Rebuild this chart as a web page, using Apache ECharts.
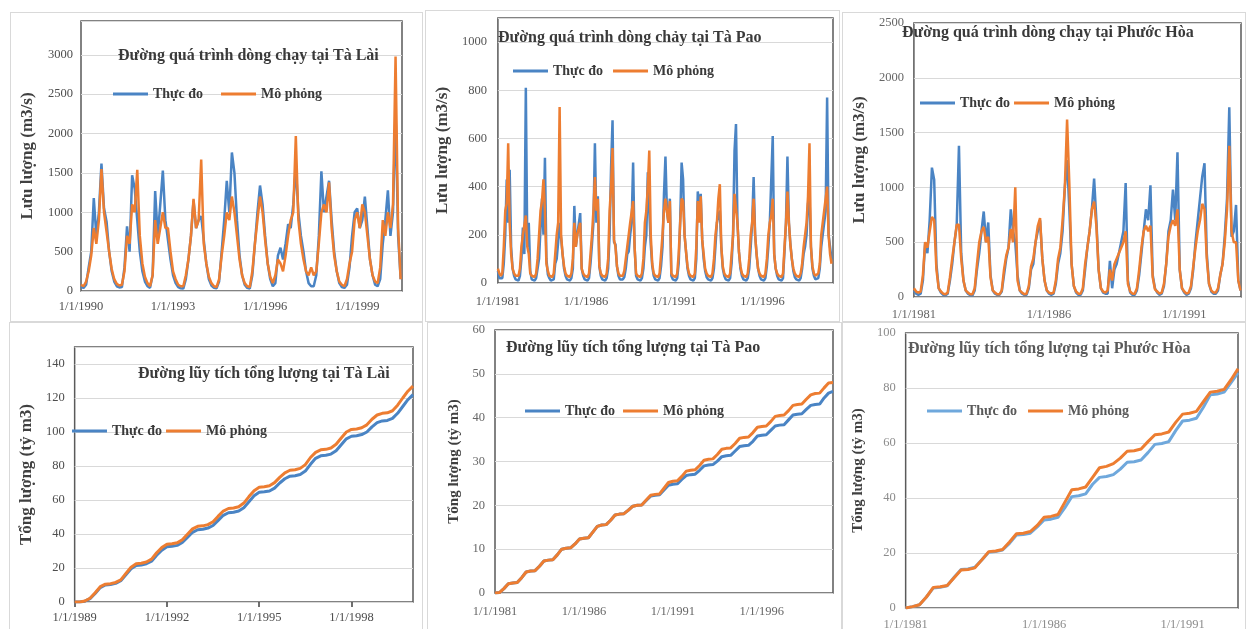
<!DOCTYPE html>
<html>
<head>
<meta charset="utf-8">
<script src="https://cdn.jsdelivr.net/npm/echarts@6/dist/echarts.min.js"></script>
<style>
  html, body { margin: 0; padding: 0; background: #fff; overflow: hidden; width: 1246px; height: 629px; }
  .panel { position: absolute; border: 1px solid #d9d9d9; box-sizing: border-box; background: #fff; }
</style>
</head>
<body>
<div id="p1" class="panel" style="left:10px;top:12px;width:413px;height:310px"></div>
<div id="p2" class="panel" style="left:425px;top:10px;width:415px;height:312px"></div>
<div id="p3" class="panel" style="left:842px;top:12px;width:404px;height:310px"></div>
<div id="p4" class="panel" style="left:9px;top:322px;width:414px;height:318px"></div>
<div id="p5" class="panel" style="left:427px;top:322px;width:415px;height:318px"></div>
<div id="p6" class="panel" style="left:842px;top:322px;width:404px;height:318px"></div>
<script>
// ---- data ----
const seriesNames = ['Thực đo', 'Mô phỏng'];

// Tà Lài flow, monthly samples from Jan 1990 (m3/s)
const taLaiFlowObs = [
  50, 40, 80, 300, 500, 1180, 700, 1000, 1620, 1050, 880, 500,
  250, 120, 60, 45, 50, 300, 820, 500, 1470, 1300, 900, 500,
  250, 120, 60, 40, 200, 1270, 700, 1100, 1530, 900, 650, 400,
  200, 100, 50, 35, 30, 150, 400, 700, 1150, 800, 900, 950,
  650, 350, 150, 70, 40, 35, 120, 500, 900, 1400, 1000, 1760,
  1500, 900, 450, 200, 80, 40, 30, 200, 600, 1000, 1340, 1100,
  700, 350, 150, 60, 100, 450, 550, 400, 600, 850, 800, 1100,
  1580, 1000, 700, 500, 250, 100, 60, 60, 200, 700, 1520, 1000,
  1200, 1400, 900, 500, 250, 100, 50, 40, 80, 300, 700, 1000,
  1050, 800, 900, 1200, 800, 400, 200, 80, 60, 150, 600, 900,
  1280, 700, 1000, 2300, 700, 150
];
const taLaiFlowSim = [
  80, 60, 120, 250, 450, 800, 600, 900, 1550, 1000, 750, 500,
  280, 150, 90, 70, 80, 250, 700, 600, 1100, 1000, 1540, 700,
  350, 180, 100, 60, 200, 900, 600, 800, 1000, 800, 800, 500,
  250, 150, 80, 60, 60, 200, 400, 700, 1170, 800, 900, 1670,
  600, 350, 180, 100, 60, 50, 150, 450, 700, 1000, 900, 1200,
  1000, 700, 400, 200, 100, 60, 50, 250, 600, 900, 1200, 1000,
  650, 350, 180, 100, 200, 400, 350, 250, 450, 700, 900, 1000,
  1970, 900, 600, 400, 250, 200, 300, 200, 250, 600, 1000, 1100,
  1000, 1380, 800, 450, 250, 120, 80, 60, 150, 350, 500, 900,
  1000, 800, 1100, 1000, 700, 400, 200, 120, 100, 300, 900, 700,
  1000, 800, 1100, 2980, 800, 150
];

// Tà Pao flow, monthly samples from Jan 1981 (m3/s)
const taPaoFlowObs = [
  50, 20, 15, 20, 80, 200, 430, 250, 470, 150, 60, 30,
  15, 10, 10, 30, 100, 230, 120, 810, 150, 250, 50, 15,
  10, 10, 20, 60, 100, 230, 350, 200, 520, 100, 35, 20,
  10, 10, 15, 80, 100, 170, 250, 250, 120, 60, 30, 15,
  10, 10, 20, 60, 320, 150, 200, 200, 290, 60, 30, 15,
  10, 10, 20, 80, 160, 250, 580, 250, 360, 70, 30, 15,
  10, 10, 20, 60, 200, 480, 675, 170, 160, 70, 30, 15,
  10, 15, 25, 60, 120, 130, 200, 250, 500, 150, 30, 15,
  10, 10, 20, 60, 150, 200, 460, 300, 160, 70, 30, 15,
  10, 10, 20, 70, 150, 370, 525, 300, 250, 350, 30, 15,
  10, 10, 20, 80, 250, 500, 430, 200, 130, 60, 30, 15,
  10, 10, 20, 100, 380, 300, 370, 180, 100, 50, 25, 15,
  10, 10, 20, 60, 150, 250, 280, 300, 150, 60, 30, 15,
  10, 10, 20, 80, 200, 550, 660, 250, 130, 60, 30, 15,
  10, 10, 20, 60, 150, 250, 440, 200, 120, 60, 30, 15,
  10, 10, 20, 70, 150, 250, 250, 610, 120, 60, 30, 15,
  10, 10, 20, 130, 250, 525, 250, 160, 100, 50, 25, 15,
  10, 10, 20, 60, 120, 150, 200, 330, 360, 150, 60, 30,
  15, 10, 20, 60, 150, 200, 250, 300, 770, 200, 150, 100
];
const taPaoFlowSim = [
  60, 40, 30, 40, 150, 300, 330, 580, 250, 120, 60, 40,
  30, 25, 30, 60, 150, 200, 200, 280, 150, 120, 40, 30,
  25, 25, 40, 100, 200, 300, 340, 430, 300, 80, 50, 30,
  25, 25, 40, 120, 200, 250, 730, 200, 120, 70, 40, 30,
  25, 25, 40, 100, 250, 150, 200, 200, 250, 60, 40, 30,
  25, 25, 40, 120, 200, 300, 440, 300, 350, 70, 40, 30,
  25, 25, 40, 100, 300, 400, 560, 180, 150, 70, 40, 30,
  25, 30, 50, 100, 150, 150, 250, 250, 340, 150, 40, 30,
  25, 25, 40, 100, 250, 300, 400, 550, 200, 80, 40, 30,
  25, 25, 40, 120, 200, 300, 350, 300, 250, 340, 40, 30,
  25, 25, 40, 120, 250, 350, 340, 200, 130, 70, 40, 30,
  25, 25, 40, 150, 340, 250, 360, 180, 120, 60, 40, 30,
  25, 25, 40, 100, 200, 250, 350, 410, 150, 70, 40, 30,
  25, 25, 40, 120, 200, 370, 370, 250, 130, 70, 40, 30,
  25, 25, 40, 100, 200, 250, 350, 200, 120, 60, 40, 30,
  25, 25, 40, 100, 200, 250, 280, 350, 120, 60, 40, 30,
  25, 25, 40, 150, 250, 380, 250, 160, 100, 60, 40, 30,
  25, 25, 40, 80, 150, 200, 250, 360, 580, 150, 70, 40,
  30, 25, 40, 80, 200, 250, 300, 350, 400, 200, 120, 80
];

// Phước Hòa flow, monthly samples from Jan 1981 (m3/s)
const phuocHoaFlowObs = [
  60, 30, 20, 30, 150, 500, 400, 700, 1180, 1070, 300, 80,
  40, 20, 15, 30, 150, 300, 500, 650, 1380, 400, 150, 60,
  30, 15, 15, 60, 250, 400, 600, 780, 500, 680, 200, 60,
  30, 20, 20, 50, 200, 350, 450, 800, 600, 500, 200, 60,
  30, 20, 20, 80, 250, 300, 500, 600, 700, 350, 150, 60,
  30, 20, 30, 120, 300, 400, 600, 1000, 1250, 800, 300, 100,
  40, 20, 20, 60, 250, 450, 600, 800, 1080, 700, 250, 80,
  40, 30, 30, 330, 80, 250, 300, 400, 500, 600, 1040, 150,
  40, 20, 20, 60, 200, 400, 600, 800, 700, 1020, 200, 80,
  40, 20, 30, 100, 300, 600, 700, 980, 700, 1320, 250, 80,
  40, 20, 30, 80, 250, 500, 700, 900, 1100, 1220, 400, 120,
  50, 30, 30, 60, 200, 300, 560, 900, 1730, 550, 600, 840,
  150, 60
];
const phuocHoaFlowSim = [
  80, 50, 40, 50, 200, 500, 450, 600, 730, 700, 250, 80,
  50, 30, 25, 40, 180, 350, 500, 660, 660, 350, 150, 60,
  40, 25, 25, 80, 300, 500, 600, 640, 500, 550, 180, 60,
  40, 25, 25, 60, 250, 380, 450, 620, 500, 1000, 150, 60,
  40, 25, 30, 100, 280, 350, 500, 650, 720, 350, 150, 60,
  40, 30, 40, 150, 350, 450, 700, 1000, 1620, 1030, 300, 100,
  50, 30, 30, 80, 300, 450, 600, 800, 870, 650, 250, 80,
  50, 40, 60, 250, 150, 300, 350, 400, 450, 500, 600, 120,
  50, 30, 30, 80, 250, 450, 600, 650, 600, 650, 180, 70,
  50, 30, 40, 120, 300, 550, 650, 700, 650, 800, 250, 80,
  50, 30, 40, 100, 280, 450, 600, 700, 850, 800, 350, 120,
  60, 40, 40, 80, 200, 300, 500, 800, 1380, 600, 500, 500,
  150, 60
];

// Tà Lài cumulative volume, every 2 months from Jan 1989 (billion m3)
const taLaiCumObs = [
  0, 0, 0.5, 2, 5, 8.5,
  10, 10.3, 11, 12.5, 16, 19.5,
  21.5, 21.8, 22.5, 24, 27.5, 30.5,
  32.5, 32.8, 33.3, 35, 38, 41,
  42.5, 42.8, 43.5, 45, 48, 51,
  52.5, 52.8, 53.5, 55.5, 59, 62.5,
  64.5, 64.8, 65.3, 67, 70, 72.5,
  74, 74.3, 75, 77, 81, 84.5,
  86, 86.3, 87, 89, 92.5, 96,
  97.5, 97.8, 98.5, 100, 103, 105.5,
  106.5, 106.8, 108, 111, 115, 119,
  122
];
const taLaiCumSim = [
  0, 0, 0.6, 2.2, 5.4, 9,
  10.5, 10.8, 11.5, 13, 16.8, 20.5,
  22.5, 22.8, 23.5, 25.2, 29, 32,
  34, 34.3, 34.8, 36.6, 39.8, 43,
  44.5, 44.8, 45.5, 47.2, 50.5, 53.5,
  55, 55.3, 56, 58.2, 62, 65.5,
  67.5, 67.8, 68.4, 70.2, 73.3, 76,
  77.5, 77.8, 78.6, 80.8, 85, 88,
  89.5, 89.8, 90.6, 92.8, 96.5, 100,
  101.5, 101.8, 102.5, 104.2, 107.5, 110,
  111, 111.3, 112.5, 115.8, 120, 124,
  127
];

// Tà Pao cumulative volume, quarterly from Jan 1981 (billion m3)
const taPaoCumObs = [
  0, 0.1, 1.0, 2.1,  2.3, 2.4, 3.5, 4.8,  5, 5.1, 6.1, 7.3,  7.5, 7.6, 8.7, 10.0,
  10.2, 10.3, 11.2, 12.3,  12.5, 12.6, 13.9, 15.2,  15.5, 15.6, 16.6, 17.8,  18, 18.1, 18.9, 19.8,
  20, 20.1, 21.1, 22.1,  22.3, 22.4, 23.5, 24.6,  24.8, 24.9, 25.9, 26.8,  27, 27.1, 28, 29,
  29.2, 29.3, 30.1, 31.1,  31.3, 31.4, 32.4, 33.4,  33.6, 33.7, 34.6, 35.8,  36, 36.1, 37.1, 38.1,
  38.3, 38.4, 39.5, 40.6,  40.8, 40.9, 41.9, 42.8,  43, 43.1, 44.5, 45.6,
  46
];
const taPaoCumSim = [
  0, 0.1, 1.0, 2.1,  2.3, 2.4, 3.5, 4.8,  5, 5.1, 6.1, 7.3,  7.5, 7.6, 8.7, 10.0,
  10.2, 10.3, 11.2, 12.3,  12.5, 12.6, 13.9, 15.2,  15.5, 15.6, 16.6, 17.8,  18, 18.1, 18.9, 19.8,
  20, 20.1, 21.2, 22.3,  22.5, 22.6, 23.9, 25.2,  25.5, 25.6, 26.6, 27.8,  28, 28.1, 29.1, 30.3,
  30.5, 30.6, 31.6, 32.8,  33, 33.1, 34.1, 35.3,  35.5, 35.6, 36.6, 37.8,  38, 38.1, 39.1, 40.3,
  40.5, 40.6, 41.6, 42.8,  43, 43.1, 44.2, 45.2,  45.5, 45.6, 46.8, 47.9,
  48
];

// Phước Hòa cumulative volume, quarterly from Jan 1981 (billion m3)
const phuocHoaCumObs = [
  0, 0.5, 1.2, 4,  7.3, 7.5, 8.1, 11.2,  14, 14.2, 14.8, 17.5,  20.3, 20.5, 21.1, 23.5,
  26.5, 26.7, 27.2, 29.5,  32, 32.3, 33, 36.5,  40.5, 40.8, 41.5, 45,  47.5, 47.8, 48.5, 50.5,
  53, 53.2, 53.8, 56.5,  59.5, 59.8, 60.5, 64.5,  68, 68.3, 69, 73,  77.5, 77.8, 78.5, 82,
  85.5
];
const phuocHoaCumSim = [
  0, 0.5, 1.2, 4,  7.5, 7.7, 8.2, 11,  13.8, 14, 14.6, 17.5,  20.5, 20.7, 21.3, 24,
  27, 27.2, 27.8, 30,  33, 33.3, 34, 38.5,  43, 43.3, 44, 47.5,  51, 51.5, 52.5, 54.5,
  57, 57.2, 57.8, 60.5,  63, 63.3, 64, 67.5,  70.5, 70.8, 71.5, 75,  78.5, 78.8, 79.5, 83,
  87
];

// x tick labels
const taLaiFlowTicks = ['1/1/1990', '1/1/1993', '1/1/1996', '1/1/1999'];
const taPaoTicks = ['1/1/1981', '1/1/1986', '1/1/1991', '1/1/1996'];
const phuocHoaTicks = ['1/1/1981', '1/1/1986', '1/1/1991'];
const taLaiCumTicks = ['1/1/1989', '1/1/1992', '1/1/1995', '1/1/1998'];

const FONT = '"Liberation Serif", "DejaVu Serif", serif';
const ORANGE = '#ed7d31';

// positions are in panel coordinates (title/legend already net of their 5px padding)
const panels = [
  {
    id: 'p1', obs: taLaiFlowObs, sim: taLaiFlowSim, step: 1 / 12,
    xMax: 10.46, xInterval: 3, xTicks: taLaiFlowTicks,
    yMax: 3430, yInterval: 500,
    grid: { left: 66, top: 8, right: 20, bottom: 30 },
    title: 'Đường quá trình dòng chạy tại Tà Lài', titlePos: { left: 102, top: 30 },
    legendPos: { left: 97, top: 69 }, legendGap: 18,
    yName: 'Lưu lượng (m3/s)', nameGap: 45, nameSize: 17,
    xMargin: 9, yMargin: 8, lineWidth: 2.5, blue: '#4a84c4', labelColor: '#4d4d4d'
  },
  {
    id: 'p2', obs: taPaoFlowObs, sim: taPaoFlowSim, step: 1 / 12,
    xMax: 19, xInterval: 5, xTicks: taPaoTicks,
    yMax: 1100, yInterval: 200,
    grid: { left: 68, top: 7, right: 6, bottom: 38 },
    title: 'Đường quá trình dòng chảy tại Tà Pao', titlePos: { left: 67, top: 14 },
    legendPos: { left: 82, top: 48 }, legendGap: 10,
    yName: 'Lưu lượng (m3/s)', nameGap: 41, nameSize: 17,
    xMargin: 12, yMargin: 11, lineWidth: 2.5, blue: '#4a84c4', labelColor: '#555'
  },
  {
    id: 'p3', obs: phuocHoaFlowObs, sim: phuocHoaFlowSim, step: 1 / 12,
    xMax: 12.1, xInterval: 5, xTicks: phuocHoaTicks,
    yMax: 2500, yInterval: 500,
    grid: { left: 55, top: 10, right: 4, bottom: 23 },
    title: 'Đường quá trình dòng chạy tại Phước Hòa', titlePos: { left: 54, top: 7 },
    legendPos: { left: 72, top: 78 }, legendGap: 4,
    yName: 'Lưu lượng (m3/s)', nameGap: 34, nameSize: 17,
    xMargin: 11, yMargin: 10, lineWidth: 2.5, blue: '#4a84c4', labelColor: '#666'
  },
  {
    id: 'p4', obs: taLaiCumObs, sim: taLaiCumSim, step: 1 / 6,
    xMax: 11, xInterval: 3, xTicks: taLaiCumTicks, xTick: true,
    yMax: 150, yInterval: 20,
    grid: { left: 52, top: 24, right: 9, bottom: 37 },
    title: 'Đường lũy tích tổng lượng tại Tà Lài', titlePos: { left: 123, top: 38 },
    legendPos: { left: 57, top: 96 }, legendGap: 4,
    yName: 'Tổng lượng (tỷ m3)', nameGap: 29, nameSize: 17,
    xMargin: 9, yMargin: 10, lineWidth: 3, blue: '#4a84c4', labelColor: '#4d4d4d'
  },
  {
    id: 'p5', obs: taPaoCumObs, sim: taPaoCumSim, step: 1 / 4,
    xMax: 19, xInterval: 5, xTicks: taPaoTicks,
    yMax: 60, yInterval: 10,
    grid: { left: 67, top: 7, right: 8, bottom: 46 },
    title: 'Đường lũy tích tổng lượng tại Tà Pao', titlePos: { left: 73, top: 12 },
    legendPos: { left: 92, top: 76 }, legendGap: 8,
    yName: 'Tổng lượng (tỷ m3)', nameGap: 27, nameSize: 15,
    xMargin: 12, yMargin: 10, lineWidth: 3, blue: '#4a84c4', labelColor: '#666'
  },
  {
    id: 'p6', obs: phuocHoaCumObs, sim: phuocHoaCumSim, step: 1 / 4,
    xMax: 12, xInterval: 5, xTicks: phuocHoaTicks,
    yMax: 100, yInterval: 20,
    grid: { left: 55, top: 10, right: 7, bottom: 31 },
    title: 'Đường lũy tích tổng lượng tại Phước Hòa', titlePos: { left: 60, top: 13 },
    legendPos: { left: 79, top: 76 }, legendGap: 11,
    yName: 'Tổng lượng (tỷ m3)', nameGap: 34, nameSize: 15,
    xMargin: 10, yMargin: 10, lineWidth: 3, blue: '#6fa8dc', labelColor: '#8c8c8c',
    titleColor: '#5a5a5a'
  }
];

function buildPanel(p) {
  const chart = echarts.init(document.getElementById(p.id), null, { renderer: 'canvas' });
  const toPoints = arr => arr.map((v, i) => [i * p.step, v]);
  const textColor = p.titleColor || '#3a3a3a';

  chart.setOption({
    animation: false,
    title: {
      text: p.title,
      left: p.titlePos.left,
      top: p.titlePos.top,
      textStyle: { fontFamily: FONT, fontSize: 16, fontWeight: 'bold', color: textColor }
    },
    legend: {
      data: seriesNames,
      left: p.legendPos.left,
      top: p.legendPos.top,
      icon: 'rect',
      itemWidth: 35,
      itemHeight: 3,
      itemGap: p.legendGap,
      textStyle: { fontFamily: FONT, fontSize: 14, fontWeight: 'bold', color: textColor }
    },
    grid: Object.assign({ show: true, borderColor: '#5a5a5a', borderWidth: 1.5 }, p.grid),
    xAxis: {
      type: 'value',
      min: 0,
      max: p.xMax,
      interval: p.xInterval,
      axisLine: { show: false },
      axisTick: { show: !!p.xTick, length: 5, lineStyle: { color: '#404040', width: 1.5 } },
      splitLine: { show: false },
      axisLabel: {
        margin: p.xMargin,
        showMaxLabel: false,
        fontFamily: FONT,
        fontSize: 12.5,
        color: p.labelColor,
        formatter: v => p.xTicks[Math.round(v / p.xInterval)] || ''
      }
    },
    yAxis: {
      type: 'value',
      min: 0,
      max: p.yMax,
      interval: p.yInterval,
      name: p.yName,
      nameLocation: 'middle',
      nameGap: p.nameGap,
      nameTextStyle: { fontFamily: FONT, fontSize: p.nameSize, fontWeight: 'bold', color: '#404040' },
      axisLine: { show: false },
      axisTick: { show: false },
      splitLine: { lineStyle: { color: '#d9d9d9', width: 1 } },
      axisLabel: {
        margin: p.yMargin,
        showMaxLabel: p.yMax % p.yInterval === 0,
        fontFamily: FONT,
        fontSize: 12.5,
        color: p.labelColor,
        formatter: v => String(v)
      }
    },
    series: [
      {
        name: seriesNames[0],
        type: 'line',
        data: toPoints(p.obs),
        symbol: 'none',
        color: p.blue,
        lineStyle: { color: p.blue, width: p.lineWidth }
      },
      {
        name: seriesNames[1],
        type: 'line',
        data: toPoints(p.sim),
        symbol: 'none',
        color: ORANGE,
        lineStyle: { color: ORANGE, width: p.lineWidth }
      }
    ]
  });
  return chart;
}

panels.forEach(buildPanel);
</script>
</body>
</html>
